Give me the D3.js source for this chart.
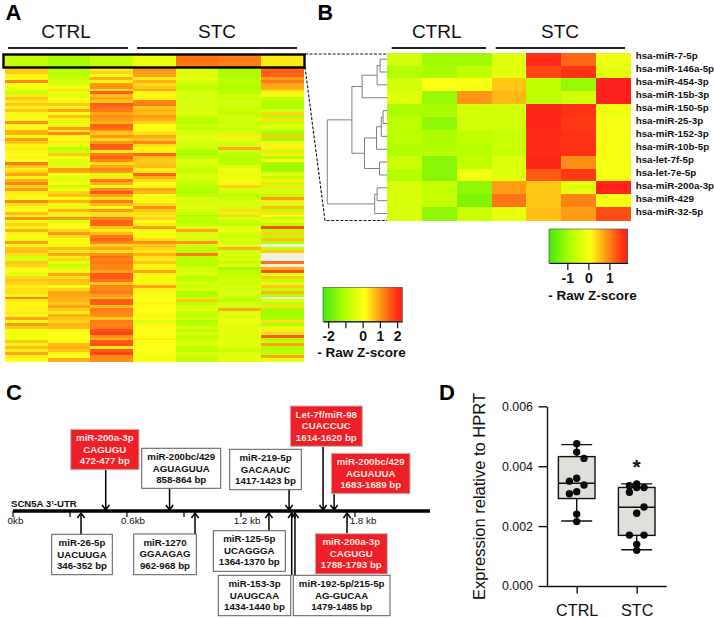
<!DOCTYPE html>
<html><head><meta charset="utf-8">
<script src="https://cdn.jsdelivr.net/npm/d3@7"></script>
<style>
html,body{margin:0;padding:0;background:#fff}
svg{display:block}
text{font-family:"Liberation Sans",Arial,sans-serif;fill:#111}
</style></head><body>
<div id="chart"></div>
<script>
// ---------- data ----------
const groups = ["CTRL","STC"];
const topRowA = [-0.8,-1.15,-0.8,-0.15,1.35,1.25,0.3];
const colA1 = [.6,.6,.2,.2,1.2,.1,-.1,-.2,-.7,.3,.6,.3,.6,.2,.6,.2,.2,.1,1.1,.2,.2,.8,.8,-.2,1.0,
 .6,.2,.3,.2,.1,.2,.1,1.3,.6,.3,.5,.9,.2,.8,1.2,.5,1.0,.3,.2,.1,1.2,.4,.2,.1,.7,
 .2,1.1,.2,.5,.2,.8,.2,.1,-.1,1.0,.2,.6,.7,.4,-.6,-.3,.6,.5,.2,.1,-.3,.5,.6,.5,.3,
 .4,.4,.2,1.2,.3,.2,.2,.2,.3,.2,.9,.2,1.0,.6,-.1,-.1,-.1,-.1,.6,.2,.7,.3,.9,.2,.1];
const colA2 = [-1,-1,-.8,-.8,-.5,-.5,-.1,.4,-.2,-.3,-.1,.2,.6,.2,.9,.1,.7,-.3,-.3,.2,1.0,.3,1.2,.2,.1,
 .3,-.2,-.9,-.7,.6,-.1,-.4,-.3,-.3,1.0,.9,.1,-.3,-.4,.2,-.7,-.2,.5,.7,-.1,.8,.2,-.2,.8,.3,
 -.3,1.0,-.4,.1,0,.5,1.0,.4,.2,-.1,.2,.7,.3,.9,.3,.5,-.3,-.7,-.3,.2,.9,.4,.7,.6,.1,
 .5,.9,.9,.8,.8,.6,.9,.6,.3,.8,.6,.5,.8,.7,.2,.1,.1,.1,.2,.7,.8,.6,.2,.1,.8];
const colA3 = [.3,.5,.1,.8,.3,1.0,1.1,.4,1.6,.7,.9,.6,1.6,1.4,1.3,.9,1.1,1.0,.8,1.5,1.4,.9,.6,1.0,.5,
 1.0,1.6,1.5,.3,1.3,1.5,1.2,.4,.9,1.2,1.0,-.4,.3,1.3,.8,.2,1.1,1.6,.9,.4,1.3,.7,.2,1.0,.4,
 .4,1.2,1.5,1.5,.6,.3,.7,1.3,1.5,1.2,.5,.9,.4,1.1,1.4,1.2,1.3,1.2,1.2,.9,1.6,1.6,1.4,.6,1.2,
 1.2,1.3,1.0,.7,1.6,1.6,.7,1.3,1.2,1.1,.6,1.3,1.2,1.3,1.7,1.8,1.1,.8,1.6,1.7,.3,1.6,1.8,1.2,1.1];
const colA4 = [1.1,1.0,.9,.3,.8,.4,.6,.9,.2,.2,.2,1.2,1.3,.6,.8,.7,1.0,.8,.5,.1,.1,.2,.4,.9,.6,
 1.2,.4,.2,.2,1.5,.7,.6,.6,.7,.3,.3,1.5,.8,.4,.1,.2,.9,.7,.1,.1,.2,.4,1.1,.6,.4,
 .3,.5,.1,.3,1.0,-.1,-.1,.2,.4,1.1,.6,.5,.3,.8,.4,.3,.6,.2,.2,.9,.2,0,-.1,.2,.9,
 .3,-.2,.1,.1,.1,.2,.1,.1,.1,.2,0,-.5,.2,.1,.1,.1,.1,.3,.1,.1,.1,.1,0,-.1,-.1];
const colA5 = [-.4,-.5,-.4,-.3,-.5,-.7,-.9,-.7,-.5,-.6,-.6,-.5,-.5,-.4,-.5,-.4,-.7,-1,-1,-.7,-.9,-.5,-.5,-.3,-.4,
 -.5,-.6,-.7,-1.1,-1.1,-.9,-.4,-.4,-.5,-.8,-.8,-.5,-.4,-.6,-.7,-1.0,-1.1,-1.1,-.9,-.4,-.6,-.4,-.3,-.6,-.7,
 -1.1,-.8,-1.0,-.8,-.4,.9,-.5,-.3,-.5,1.1,-.5,-.8,-.9,1.3,-.9,-1,-1,-.9,-.6,-.5,-.4,-1,-.8,-.5,-.7,
 -.5,-1,-1.1,-.7,.6,-.9,-.5,-.4,-.7,-.9,-.6,-1.1,-1,-.5,-.9,-.4,-.9,-.7,-.6,-.4,-.9,-.9,-.5,-.7,-.8];
const colA6 = [-1.1,-1.1,-1.1,-1,-1,-1,-1.1,-1.0,-1,-.6,-.7,-.6,-.6,-.7,-.7,-.8,-.5,-.6,-.7,-.5,-.7,-.6,-.5,.3,-.2,
 -.6,-.6,.9,-.6,-.9,-1,-1,-.9,-.4,-.1,-.3,-.2,-.1,-.1,.2,.5,-.5,-.6,-.9,-.7,-.5,-.4,-.6,.4,-.5,
 .5,-.4,-.7,-.9,-.3,-.2,-.5,-.7,-.5,-.6,-.3,.8,-.6,-.4,-.7,-.3,-.8,-.4,-1.2,-.8,-.9,-.7,-.6,-.7,-.5,
 -.5,-.5,-.5,-.8,-1,-.4,-.6,.9,-.4,-.3,-.3,-.2,-.3,-.3,-.3,-.3,-.4,-.3,-.3,-.3,-.5,-.7,-.4,-.3,-.3];
const colA7 = [1.5,1.6,1.5,1.0,1.3,.9,.9,.6,-.3,.2,-.8,-1,-1.1,-1.1,-.6,.5,-1,.4,-.8,-.3,-.6,-1.1,-1.2,.6,-1.2,
 -.3,.2,.3,-.8,.3,-1,.2,-1.2,-1.3,-1.3,-.9,-.3,-.8,.3,-.7,.4,-.6,-.4,-.8,1.0,.3,-.6,.7,-.9,.4,
 .1,-.7,-.3,-.9,1.7,-1,.5,-.9,.7,-1,null,-.9,.6,null,null,null,1.4,null,.8,1.7,-.3,.6,-.8,-.3,.6,
 -.9,.8,-1,null,-.5,-.9,.4,-1.2,-1.2,-1.2,-1.1,.4,-1.1,-.3,.3,.4,1.6,-1.1,-.8,.9,-1,-1,-.9,.9,-.2];
const heatAColumns = [colA1,colA2,colA3,colA4,colA5,colA6,colA7];

const miRNAs = ["hsa-miR-7-5p","hsa-miR-146a-5p","hsa-miR-454-3p","hsa-miR-15b-3p","hsa-miR-150-5p","hsa-miR-25-3p","hsa-miR-152-3p","hsa-miR-10b-5p","hsa-let-7f-5p","hsa-let-7e-5p","hsa-miR-200a-3p","hsa-miR-429","hsa-miR-32-5p"];
const heatB = [
 [-.5,-1.0,-1.0,-.3,1.7,1.2,-.1],
 [-.85,-.95,-.7,-.25,1.45,1.6,-.25],
 [-.5,.1,0,.5,-.75,-1.1,1.85],
 [-.3,-1.1,.85,.6,-.75,-.5,1.85],
 [-.9,-.95,-.45,-.45,1.75,1.6,-.1],
 [-.75,-1.2,-.5,-.5,1.75,1.55,0],
 [-.75,-.9,-.7,-.6,1.7,1.6,0],
 [-.85,-.85,-.8,-.6,1.7,1.6,0],
 [-.55,-1.25,-.7,-.35,1.75,.9,0],
 [-.85,-1.25,-.05,-.3,1.3,1.55,0],
 [-.4,-.65,-1.2,.8,.5,-.25,1.8],
 [-.4,-.65,-1.3,1.1,.5,1.0,0],
 [-.4,-1.2,-.6,-.2,.55,.8,1.4]];
const dendrogram = {h:1,c:[
 {h:.59,c:[
  {h:.42,c:[
   {h:.17,c:[{h:.12,c:["hsa-miR-7-5p","hsa-miR-146a-5p"]},"hsa-miR-454-3p"]},
   "hsa-miR-15b-3p"]},
  {h:.38,c:[
   {h:.18,c:[{h:.10,c:[{h:.07,c:["hsa-miR-150-5p","hsa-miR-25-3p"]},"hsa-miR-152-3p"]},"hsa-miR-10b-5p"]},
   {h:.13,c:["hsa-let-7f-5p","hsa-let-7e-5p"]}]}]},
 {h:.21,c:[{h:.17,c:["hsa-miR-200a-3p","hsa-miR-429"]},"hsa-miR-32-5p"]}]};

const colorStops = [-1.87,-.8,.1,.8,1.6,1.87];
const colorValues = ["#44ea10","#b8ff00","#ffff14","#ff9c14","#ff3214","#ff1e1e"];

const siteNames = ["miR-200a-3p","miR-200bc/429","miR-219-5p","Let-7f/miR-98","miR-200bc/429","miR-26-5p","miR-1270","miR-125-5p","miR-153-3p","miR-192-5p/215-5p","miR-200a-3p"];
const siteSeqs = ["CAGUGU","AGUAGUUA","GACAAUC","CUACCUC","AGUAUUA","UACUUGA","GGAAGAG","UCAGGGA","UAUGCAA","AG-GUCAA","CAGUGU"];
const siteRanges = ["472-477 bp","858-864 bp","1417-1423 bp","1614-1620 bp","1683-1689 bp","346-352 bp","962-968 bp","1364-1370 bp","1434-1440 bp","1479-1485 bp","1788-1793 bp"];
const siteKb = [.488,.824,1.453,1.632,1.69,.358,.958,1.347,1.467,1.484,1.758];
const siteHit = [true,false,false,true,true,false,false,false,false,false,true];
const kbTicks = [0,.3,.6,.9,1.2,1.8];

const ctrlValues = [.00475,.00447,.00426,.0036,.0035,.00337,.00315,.00308,.0024,.00215];
const ctrlSwarm = [0,0,1,0,-1,1,0,-1,0,0];
const stcValues = [.00341,.00335,.00329,.00329,.00313,.00264,.00243,.0017,.0017,.00139,.00119];
const stcSwarm = [0,-1,1,0,-1,1,0,-1,1,0,0];
const boxStats = [
 {g:"CTRL",lo:.00217,q1:.00292,med:.00343,q3:.00432,hi:.00472},
 {g:"STC",lo:.00121,q1:.00169,med:.00263,q3:.00329,hi:.00341}];

// ---------- layout ----------
const FONT = '"Liberation Sans",Arial,sans-serif';
const svg = d3.select("#chart").append("svg").attr("width",714).attr("height",618);
const defs = svg.append("defs");
defs.append("filter").attr("id","soft").attr("x","-2%").attr("y","-2%").attr("width","104%").attr("height","104%")
 .append("feGaussianBlur").attr("stdDeviation",0.45);
const color = d3.scaleLinear().domain(colorStops).range(colorValues).clamp(true);
const legendRangeA = 2.3, legendRangeB = 1.87;
const colorA = z => color(z*legendRangeB/legendRangeA);

function letter(t,x,y,fs){svg.append("text").attr("x",x).attr("y",y).attr("font-size",fs).attr("font-weight",700).style("fill","#000").text(t);}
letter("A",5.5,20,22); letter("B",317.5,19.5,21.5); letter("C",6,400,22); letter("D",439,400,22);

function groupHeader(cx,bars){
 groups.forEach((g,i)=>{
  svg.append("text").attr("x",cx[i]).attr("y",38).attr("text-anchor","middle").attr("font-size",19).text(g);
  svg.append("line").attr("x1",bars[i][0]).attr("x2",bars[i][1]).attr("y1",48).attr("y2",48).attr("stroke","#222").attr("stroke-width",2);
 });
}
groupHeader([66,217],[[8,128],[137,297]]);
groupHeader([436.7,560],[[391.7,486],[495.7,625]]);

// Panel A
const colIdx = d3.range(7);
const ax = d3.scaleBand().domain(colIdx).range([5,303.5]);
const rowsA = d3.range(colA1.length);
const ay = d3.scaleBand().domain(rowsA).range([68,361]);
const gA = svg.append("g").attr("filter","url(#soft)");
heatAColumns.forEach((col,c)=>{
 gA.selectAll(null).data(col).join("rect").attr("shape-rendering","crispEdges")
  .attr("x",ax(c)).attr("width",ax.bandwidth()+.5)
  .attr("y",(d,i)=>ay(i)).attr("height",ay.bandwidth()+.5)
  .attr("fill",d=>d===null?"#f0efe8":colorA(d));
});
svg.append("g").attr("shape-rendering","crispEdges").selectAll("rect").data(topRowA).join("rect")
 .attr("x",(d,i)=>ax(i)).attr("width",ax.bandwidth()+.5).attr("y",55).attr("height",12).attr("fill",d=>colorA(d));
svg.append("rect").attr("x",3.5).attr("y",54.5).attr("width",301).attr("height",13).attr("fill","none").attr("stroke","#000").attr("stroke-width",2.4);

// zoom connector
svg.append("path").attr("d","M305,54H387M305,67L325,220.5H387").attr("fill","none").attr("stroke","#111").attr("stroke-width",1.1).attr("stroke-dasharray","3,1.6");

// Panel B
const bx = d3.scaleBand().domain(colIdx).range([387.3,630.7]);
const by = d3.scaleBand().domain(miRNAs).range([52.7,220]);
const byLabel = d3.scalePoint().domain(miRNAs).range([55,211.7]);
const gB = svg.append("g").attr("shape-rendering","crispEdges");
heatB.forEach((row,r)=>{
 gB.selectAll(null).data(row).join("rect")
  .attr("x",(d,i)=>bx(i)).attr("width",bx.bandwidth()+.5)
  .attr("y",by(miRNAs[r])).attr("height",by.bandwidth()+.5).attr("fill",d=>color(d));
});
svg.append("g").selectAll("text").data(miRNAs).join("text")
 .attr("x",635.7).attr("y",d=>byLabel(d)+3.5)
 .attr("font-size",9.8).attr("font-weight",700).text(d=>d);

// dendrogram
const dx = d3.scaleLinear().domain([0,1]).range([387.3,327.3]);
const gD = svg.append("g").attr("fill","none").attr("stroke","#808080").attr("stroke-width",1);
function drawTree(n){
 if(typeof n==="string") return {x:dx(0),y:by(n)+by.bandwidth()/2};
 const kids=n.c.map(drawTree), x=dx(n.h);
 const ys=kids.map(k=>k.y);
 gD.append("path").attr("d",`M${kids[0].x},${ys[0]}H${x}V${ys[1]}H${kids[1].x}`);
 return {x,y:(ys[0]+ys[1])/2};
}
drawTree(dendrogram);

// colour legends
function legend(id,x0,x1,y0,y1,tickVals,labelled,range){
 const s=d3.scaleLinear().domain([-range,range]).range([x0,x1]);
 const gr=defs.append("linearGradient").attr("id",id);
 colorStops.forEach((z,i)=>gr.append("stop").attr("offset",(z+1.87)/3.74).attr("stop-color",colorValues[i]));
 svg.append("rect").attr("x",x0).attr("y",y0).attr("width",x1-x0).attr("height",y1-y0).attr("fill",`url(#${id})`).attr("stroke","#444").attr("stroke-width",.6);
 const axis=d3.axisBottom(s).tickValues(tickVals).tickSize(7).tickSizeOuter(0).tickFormat(d=>labelled.includes(d)?String(d):"");
 const g=svg.append("g").attr("transform",`translate(0,${y1})`).call(axis);
 g.selectAll("text").attr("font-size",14).attr("font-weight",700).attr("dy",null).attr("y",20).style("font-family",FONT).style("fill","#111");
 g.selectAll("line,path").attr("stroke","#111").attr("stroke-width",1.2);
}
legend("gradA",323,402.3,287.3,321.3,[-2,-1,0,1,2],[-2,0,1,2],legendRangeA);
legend("gradB",549,627.7,229,263,[-1,0,1],[-1,0,1],legendRangeB);
function zTitle(cx,y){svg.append("text").attr("x",cx).attr("y",y).attr("text-anchor","middle").attr("font-size",13.5).attr("font-weight",700).text("- Raw Z-score");}
zTitle(361.5,357); zTitle(592.5,300);

// Panel C
const kb = d3.scaleLinear().domain([0,1.8]).range([13,355]);
const lineY = 511;
const boxLayout = [[70.7,139,429.3,469.7],[141.7,220.7,448.3,488.3],[229.7,301.3,449.3,489.7],[290.3,362.3,406,446.3],[331.3,410,453.3,493.7],
 [51.7,112.3,534.3,574.7],[133.7,196.3,534,574.7],[213.3,285.3,530.7,571.3],[218.3,290.7,575.3,615.7],[293.3,390,575.3,615.7],[315.3,387.3,533.7,574]];
const gC = svg.append("g");
gC.selectAll("line.tick").data(kbTicks).join("line").attr("class","tick")
 .attr("x1",d=>kb(d)).attr("x2",d=>kb(d)).attr("y1",lineY).attr("y2",517).attr("stroke","#000").attr("stroke-width",1.2);
gC.append("line").attr("x1",13).attr("x2",430).attr("y1",lineY).attr("y2",lineY).attr("stroke","#000").attr("stroke-width",3.4);
gC.append("text").attr("x",11).attr("y",507).attr("font-size",9.6).attr("font-weight",700).text("SCN5A 3\u2019-UTR");
[["0kb",15.5],["0.6kb",133],["1.2 kb",247],["1.8 kb",363]].forEach(([t,x])=>
 gC.append("text").attr("x",x).attr("y",524).attr("text-anchor","middle").attr("font-size",9.8).text(t));
siteNames.forEach((name,i)=>{
 const [x0,x1,y0,y1]=boxLayout[i];
 const x=kb(siteKb[i]);
 const down=y1<lineY;
 const from=down?y1:y0, tip=down?lineY-1:lineY+2, dir=down?-1:1;
 gC.append("path").attr("fill","none").attr("stroke","#000").attr("stroke-width",1.5)
  .attr("d",`M${x},${from}V${tip}M${x-3.6},${tip+dir*5}L${x},${tip}L${x+3.6},${tip+dir*5}`);
});
siteNames.forEach((name,i)=>{
 const [x0,x1,y0,y1]=boxLayout[i];
 const hit=siteHit[i];
 gC.append("rect").attr("x",x0).attr("y",y0).attr("width",x1-x0).attr("height",y1-y0)
  .attr("fill",hit?"#ee1f26":"#fff").attr("stroke",hit?"#b9b9b9":"#5a5a5a").attr("stroke-width",1);
 [name,siteSeqs[i],siteRanges[i]].forEach((t,k)=>{
  gC.append("text").attr("x",(x0+x1)/2).attr("y",y0+11.7+k*11.5).attr("text-anchor","middle")
   .attr("font-size",9.7).attr("font-weight",700).style("fill",hit?"#ffe3e0":"#111").text(t);
 });
});

// Panel D
const yD = d3.scaleLinear().domain([0,.006]).range([586,406.3]);
const xD = d3.scalePoint().domain(groups).range([576.7,636.7]);
const gAxisY = svg.append("g").attr("transform","translate(547,0)").call(d3.axisLeft(yD).tickValues([0,.002,.004,.006]).tickFormat(d3.format(".3f")).tickSize(8.5).tickSizeOuter(0));
const gAxisX = svg.append("g").attr("transform","translate(0,586)").call(d3.axisBottom(xD).tickSize(7.5).tickSizeOuter(0));
gAxisX.select(".domain").attr("d","M547,0.5H666.7");
[gAxisY,gAxisX].forEach(g=>{g.selectAll("line,path").attr("stroke","#111").attr("stroke-width",1.4);});
gAxisY.selectAll("text").attr("font-size",12.4).style("font-family",FONT).style("fill","#111").attr("x",-14);
gAxisX.selectAll("text").attr("font-size",16.2).style("font-family",FONT).style("fill","#111").attr("y",30).attr("dy",null);
svg.append("text").attr("transform","translate(485,496.5) rotate(-90)").attr("text-anchor","middle").attr("font-size",16.5).text("Expression relative to HPRT");

const gBox = svg.append("g").attr("stroke","#111").attr("stroke-width",1.4);
boxStats.forEach(b=>{
 const c=xD(b.g);
 gBox.append("path").attr("fill","none").attr("d",`M${c},${yD(b.hi)}V${yD(b.lo)}M${c-15.5},${yD(b.hi)}H${c+15.5}M${c-15.5},${yD(b.lo)}H${c+15.5}`);
 gBox.append("rect").attr("x",c-18.3).attr("width",36.6).attr("y",yD(b.q3)).attr("height",yD(b.q1)-yD(b.q3)).attr("fill","#e0e0da");
 gBox.append("line").attr("x1",c-18.3).attr("x2",c+18.3).attr("y1",yD(b.med)).attr("y2",yD(b.med));
});
[[ctrlValues,ctrlSwarm,"CTRL"],[stcValues,stcSwarm,"STC"]].forEach(([vals,sw,g])=>{
 svg.append("g").selectAll("circle").data(vals).join("circle")
  .attr("cx",(d,i)=>xD(g)+sw[i]*7.3).attr("cy",d=>yD(d)).attr("r",3.7).attr("fill","#0a0a0a");
});
svg.append("text").attr("x",636.5).attr("y",474).attr("text-anchor","middle").attr("font-size",21).attr("font-weight",700).text("*");
</script>
</body></html>
